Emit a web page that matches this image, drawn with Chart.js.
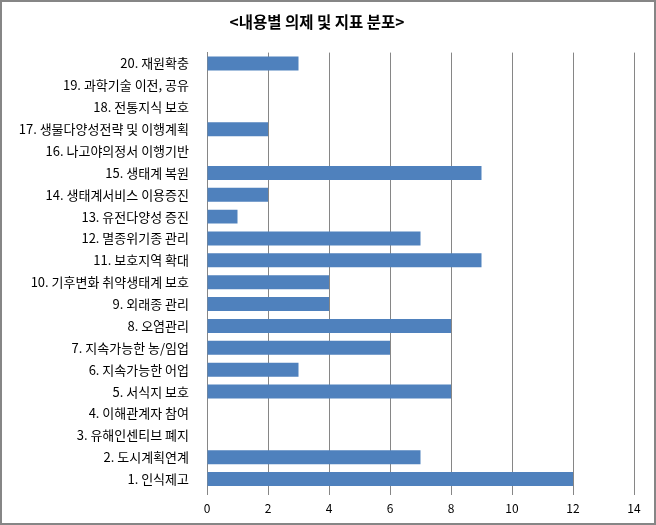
<!DOCTYPE html>
<html>
<head>
<meta charset="utf-8">
<script src="https://cdn.jsdelivr.net/npm/chart.js@4"></script>
<style>
  html, body { margin: 0; padding: 0; background: #fff; }
  #wrap { width: 656px; height: 525px; position: relative; }
</style>
</head>
<body>
<div id="wrap"><canvas id="chart" width="656" height="525"></canvas></div>
<script>
// categories, top to bottom as drawn
const categories = [
    '20. 재원확충',
    '19. 과학기술 이전, 공유',
    '18. 전통지식 보호',
    '17. 생물다양성전략 및 이행계획',
    '16. 나고야의정서 이행기반',
    '15. 생태계 복원',
    '14. 생태계서비스 이용증진',
    '13. 유전다양성 증진',
    '12. 멸종위기종 관리',
    '11. 보호지역 확대',
    '10. 기후변화 취약생태계 보호',
    '9. 외래종 관리',
    '8. 오염관리',
    '7. 지속가능한 농/임업',
    '6. 지속가능한 어업',
    '5. 서식지 보호',
    '4. 이해관계자 참여',
    '3. 유해인센티브 폐지',
    '2. 도시계획연계',
    '1. 인식제고'
];
const counts = [3, 0, 0, 2, 0, 9, 2, 1, 7, 9, 4, 4, 8, 6, 3, 8, 0, 0, 7, 12];
const xTicks = [0, 2, 4, 6, 8, 10, 12, 14];

const FONT = "'Noto Sans CJK KR', 'Noto Sans', sans-serif";

// outer frame like the spreadsheet chart box
const frame = {
    id: 'frame',
    afterDraw(chart) {
        const ctx = chart.ctx;
        ctx.save();
        ctx.strokeStyle = '#868686';
        ctx.lineWidth = 2;
        ctx.strokeRect(1, 1, chart.width - 2, chart.height - 2);
        ctx.restore();
    }
};

const ctx = document.getElementById('chart').getContext('2d');
new Chart(ctx, {
    type: 'bar',
    data: {
        labels: categories,
        datasets: [{
            data: counts,
            backgroundColor: '#4F81BD',
            borderWidth: 0,
            categoryPercentage: 1,
            barPercentage: 0.64
        }]
    },
    options: {
        indexAxis: 'y',
        responsive: false,
        animation: false,
        layout: { padding: { left: 0, right: 22, top: 0, bottom: 0 } },
        scales: {
            x: {
                min: 0,
                max: 14,
                afterBuildTicks: (scale) => { scale.ticks = xTicks.map(v => ({ value: v })); },
                afterFit: (scale) => { scale.height = 35; },
                grid: { color: '#868686', lineWidth: 1, tickLength: 5, drawTicks: true },
                border: { display: false },
                ticks: { color: '#000', font: { family: FONT, size: 12 }, padding: 6 }
            },
            y: {
                afterFit: (scale) => { scale.width = 207; },
                grid: { display: false },
                border: { display: true, color: '#868686', width: 1 },
                ticks: { color: '#000', font: { family: FONT, size: 13 }, padding: 10, autoSkip: false }
            }
        },
        plugins: {
            legend: { display: false },
            tooltip: { enabled: false },
            title: {
                display: true,
                text: '<내용별 의제 및 지표 분포>',
                color: '#000',
                font: { family: FONT, size: 15.5, weight: 'bold' },
                padding: { top: 13, bottom: 21 }
            }
        }
    },
    plugins: [frame]
});
</script>
</body>
</html>
